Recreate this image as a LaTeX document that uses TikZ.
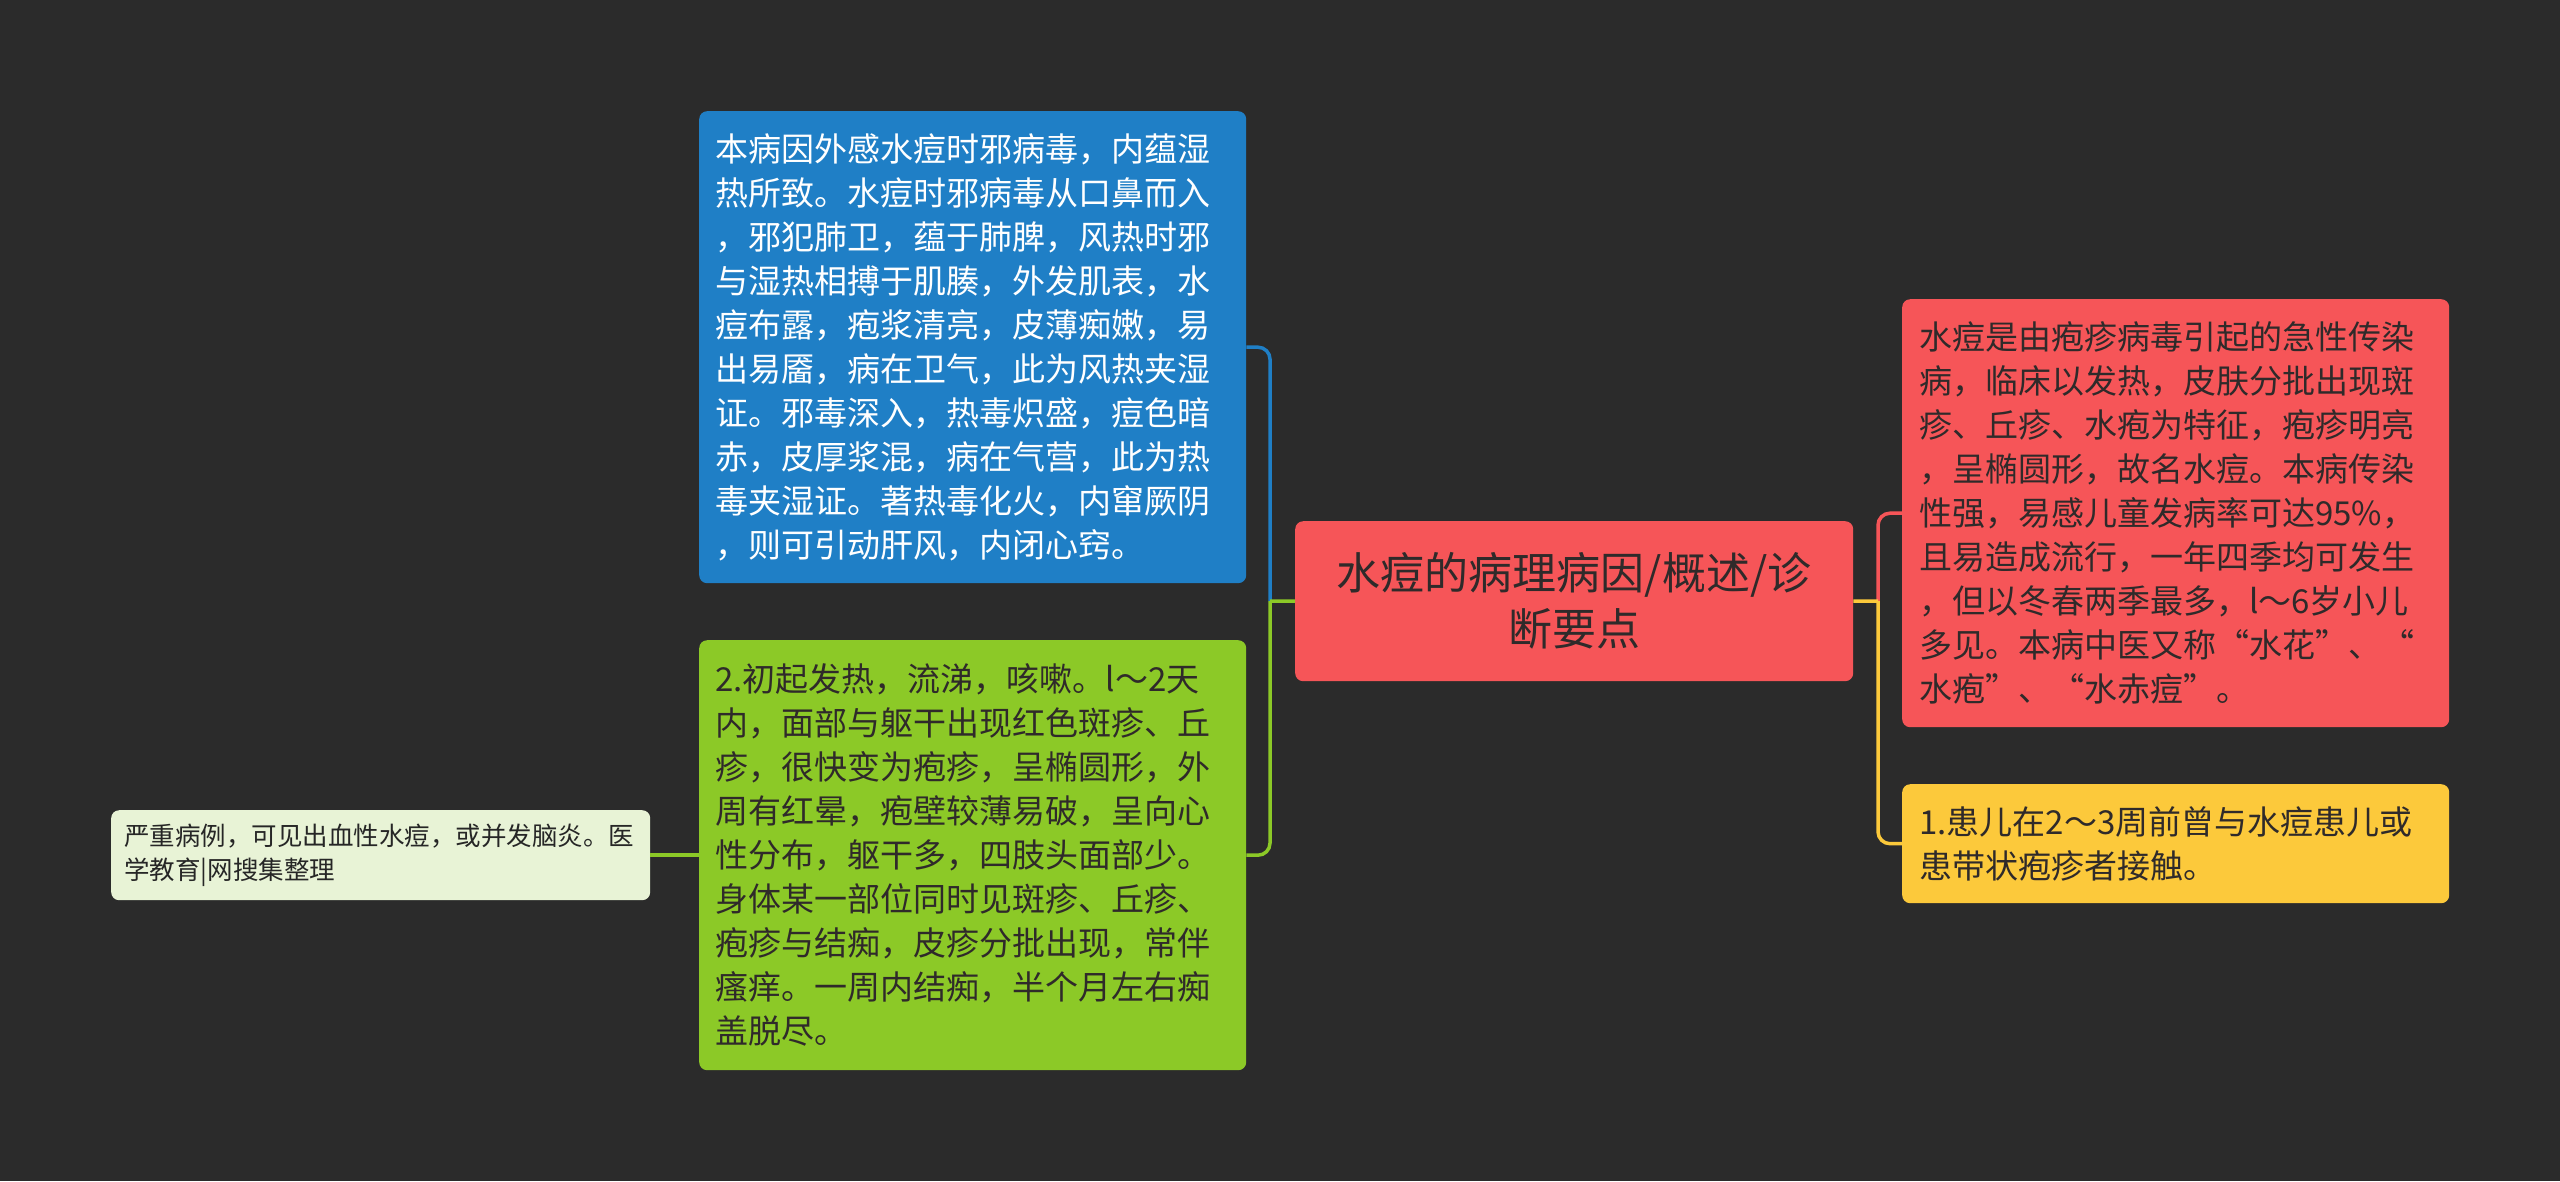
\documentclass[tikz,border=0pt]{standalone}
\usepackage{fontspec}
\setmainfont{Noto Sans CJK SC}
\definecolor{bg}{HTML}{2B2B2B}
\definecolor{cblue}{HTML}{1F7FC6}
\definecolor{cgreen}{HTML}{8CC927}
\definecolor{cred}{HTML}{F65558}
\definecolor{cyellow}{HTML}{FCC93B}
\definecolor{clight}{HTML}{E8F3D6}
\definecolor{ctext}{HTML}{2F2A2A}
\begin{document}
\begin{tikzpicture}[x=1pt,y=-1pt,
  box/.style={rounded corners=8pt, anchor=north west, inner ysep=0pt, align=left},
  bigtxt/.style={font=\fontsize{33}{44}\selectfont},
  conn/.style={line width=3.5pt, rounded corners=12pt}]
\useasboundingbox (0,0) rectangle (2560,1181);
\fill[bg] (0,0) rectangle (2560,1181);

\node[box, bigtxt, fill=cblue, text=white, inner xsep=16pt, text width=515pt,
      minimum width=547pt, minimum height=472pt] (blue) at (699,111)
 {本病因外感水痘时邪病毒，内蕴湿\\
  热所致。水痘时邪病毒从口鼻而入\\
  ，邪犯肺卫，蕴于肺脾，风热时邪\\
  与湿热相搏于肌腠，外发肌表，水\\
  痘布露，疱浆清亮，皮薄痴嫩，易\\
  出易靥，病在卫气，此为风热夹湿\\
  证。邪毒深入，热毒炽盛，痘色暗\\
  赤，皮厚浆混，病在气营，此为热\\
  毒夹湿证。著热毒化火，内窜厥阴\\
  ，则可引动肝风，内闭心窍。};

\node[box, bigtxt, fill=cgreen, text=ctext, inner xsep=16pt, text width=515pt,
      minimum width=547pt, minimum height=430pt] (green) at (699,640)
 {2.初起发热，流涕，咳嗽。l～2天\\
  内，面部与躯干出现红色斑疹、丘\\
  疹，很快变为疱疹，呈椭圆形，外\\
  周有红晕，疱壁较薄易破，呈向心\\
  性分布，躯干多，四肢头面部少。\\
  身体某一部位同时见斑疹、丘疹、\\
  疱疹与结痴，皮疹分批出现，常伴\\
  瘙痒。一周内结痴，半个月左右痴\\
  盖脱尽。};

\node[box, font=\fontsize{25.5}{34}\selectfont, fill=clight, text=black!85,
      inner xsep=13pt, text width=513pt,
      minimum width=539pt, minimum height=90pt] (small) at (111,810)
 {严重病例，可见出血性水痘，或并发脑炎。医\\
  学教育|网搜集整理};

\node[box, align=center, font=\fontsize{44}{56}\selectfont, fill=cred, text=ctext,
      inner xsep=10pt, text width=538pt,
      minimum width=558pt, minimum height=160pt] (center) at (1295,521)
 {水痘的病理病因/概述/诊\\断要点};

\node[box, bigtxt, fill=cred, text=ctext, inner xsep=17pt, text width=513pt,
      minimum width=547pt, minimum height=428pt] (red) at (1902,299)
 {水痘是由疱疹病毒引起的急性传染\\
  病，临床以发热，皮肤分批出现斑\\
  疹、丘疹、水疱为特征，疱疹明亮\\
  ，呈椭圆形，故名水痘。本病传染\\
  性强，易感儿童发病率可达95\%，\\
  且易造成流行，一年四季均可发生\\
  ，但以冬春两季最多，l～6岁小儿\\
  多见。本病中医又称“水花”、“\\
  水疱”、“水赤痘”。};

\node[box, bigtxt, fill=cyellow, text=ctext, inner xsep=17pt, text width=513pt,
      minimum width=547pt, minimum height=119pt] (yellow) at (1902,784)
 {1.患儿在2～3周前曾与水痘患儿或\\
  患带状疱疹者接触。};

\coordinate (jl) at (1270,601);
\coordinate (jr) at (1878,601);

\draw[conn, cblue] (jl) |- (blue.east);
\draw[conn, cgreen] (jl) |- (green.east);
\draw[conn, cgreen] (center.west) -- (jl);
\draw[conn, cgreen] (green.west) -- (small.east);

\draw[conn, cred] (jr) |- (red.west);
\draw[conn, cyellow] (jr) |- (yellow.west);
\draw[conn, cyellow] (center.east) -- (jr);
\end{tikzpicture}
\end{document}
